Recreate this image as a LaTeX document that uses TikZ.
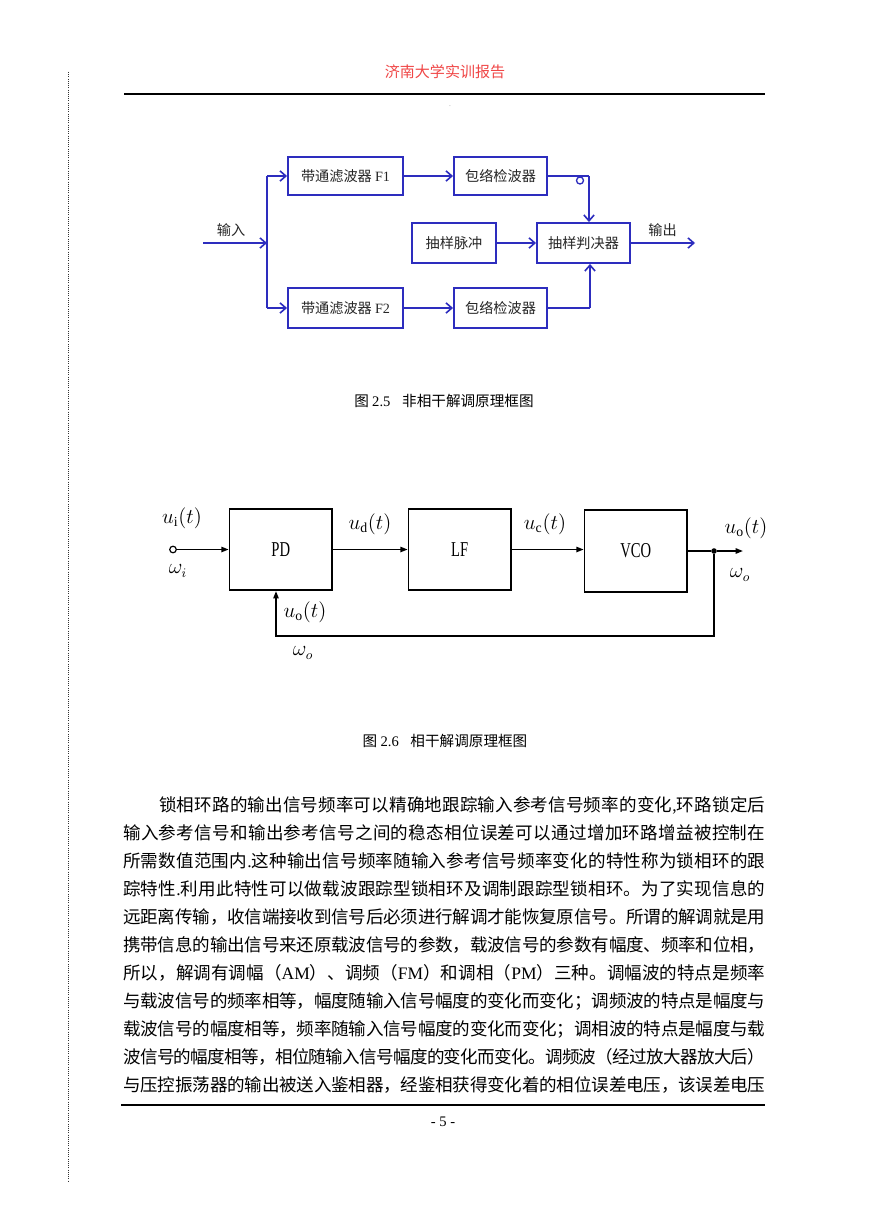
\documentclass[tikz,border=0pt]{standalone}
\usepackage{fontspec}
\usepackage{graphicx}
\setmainfont{Liberation Serif}
\newfontfamily\cjk{Noto Sans CJK SC}
\newfontfamily\lat{Liberation Serif}
\usetikzlibrary{arrows.meta}
\definecolor{blu}{RGB}{45,45,190}
\definecolor{hdred}{RGB}{240,70,70}
\ExplSyntaxOn
\NewDocumentCommand\spreadline{m m}
  {
    \hbox_to_wd:nn {#1}
      {
        \skip_horizontal:n {0pt plus -1fil minus -0.6pt}
        \tl_map_inline:nn {#2}
          { \skip_horizontal:n {0pt plus 1fil minus 0.6pt} {##1} }
      }
  }
\ExplSyntaxOff
\tikzset{
  bx/.style 2 args={draw=blu, line width=1.3pt, inner sep=0pt,
    minimum width=#1*0.6847pt, minimum height=#2*0.6847pt,
    font=\cjk\fontsize{9.7}{11}\selectfont, text=black!85},
  kbx/.style 2 args={draw=black, line width=1.1pt, inner sep=0pt,
    minimum width=#1*0.6847pt, minimum height=#2*0.6847pt,
    font=\lat\fontsize{10}{12}\selectfont},
  bline/.style={draw=blu, line width=1.3pt},
  barr/.style={bline, -{Straight Barb[length=4pt,width=7pt,line width=1.1pt]}},
  kline/.style={draw=black, line width=1.1pt},
  karr/.style={kline, -{Triangle[length=5pt,width=3.6pt]}},
  lbl/.style={inner sep=0pt, font=\fontsize{13.5}{16}\selectfont},
  cn/.style={inner sep=0pt, font=\cjk\fontsize{9.7}{11}\selectfont, text=black!85},
  bodyline/.style={anchor=west, inner sep=0pt, font=\cjk\fontsize{12}{14}\selectfont},
  figcap/.style={inner sep=0pt, font=\cjk\fontsize{10}{12}\selectfont},
}
\begin{document}
\begin{tikzpicture}[x=0.6847pt,y=-0.6847pt]
\useasboundingbox (0,0) rectangle (869,1228);
\fill[white] (0,0) rectangle (869,1228);

% ---------- page decorations ----------
\draw[line width=0.5pt, densely dotted, black!80] (68,72) -- (68,1182);
\node[inner sep=0pt, font=\cjk\fontsize{10.3}{12}\selectfont, text=hdred] (hdr) at (445,72) {济南大学实训报告};
\draw[line width=2pt] (124,94) -- (765,94);
\node[inner sep=0pt, font=\lat\fontsize{5}{6}\selectfont, text=black!40] (dot) at (450,106) {.};
\draw[line width=2pt] (121,1105) -- (765,1105);
\node[inner sep=0pt, font=\lat\fontsize{10}{12}\selectfont] (pg) at (443,1122) {- 5 -};

% ---------- diagram 2.5 ----------
\node[cn] (inl) at (231,230) {输入};
\coordinate (inS) at (203,243);
\coordinate (J) at (267,243);
\coordinate (Jt) at (267,176);
\coordinate (Jb) at (267,308);
\node[bx={115}{38}] (f1) at (345.5,176) {带通滤波器 {\lat F1}};
\node[bx={93}{38}] (e1) at (500.5,176) {包络检波器};
\node[bx={115}{40}] (f2) at (345.5,308) {带通滤波器 {\lat F2}};
\node[bx={93}{40}] (e2) at (500.5,308) {包络检波器};
\node[bx={84}{40}] (sp) at (454,243) {抽样脉冲};
\node[bx={93}{40}] (dec) at (583.5,243) {抽样判决器};
\node[cn] (outl) at (662.5,230) {输出};
\coordinate (outT) at (695,243);
\coordinate (c1) at (589,176);
\coordinate (c2) at (590,308);

\draw[barr] (inS) -- (J);
\draw[bline] (Jt) -- (Jb);
\draw[barr] (Jt) -- (f1.west);
\draw[barr] (Jb) -- (f2.west);
\draw[barr] (f1) -- (e1);
\draw[barr] (f2) -- (e2);
\draw[barr] (sp) -- (dec);
\draw[barr] (dec.east) -- (outT);
\draw[bline] (e1.east) -- (c1);
\draw[barr] (c1) -- (c1 |- dec.north);
\draw[blu, line width=0.9pt] (580,180.5) circle[radius=3.5];
\draw[bline] (e2.east) -- (c2);
\draw[barr] (c2) -- (c2 |- dec.south);

\node[figcap] (cap1) at (444,401) {图 {\lat 2.5}\hspace{0.8em}非相干解调原理框图};

% ---------- diagram 2.6 ----------
\node[kbx={102.5}{81.5}] (PD) at (280.75,549.5) {\scalebox{1}[1.45]{PD}};
\node[kbx={102.5}{81.5}] (LF) at (459.75,549.5) {\scalebox{1}[1.45]{LF}};
\node[kbx={102.5}{82}] (VCO) at (635.75,551) {\scalebox{1}[1.45]{VCO}};
\node[circle, draw, line width=0.8pt, inner sep=0pt, minimum size=4.5pt] (inc) at (173,549.5) {};
\node[circle, fill, inner sep=0pt, minimum size=3.8pt] (jn) at (714,551) {};
\coordinate (oT) at (743,551);
\coordinate (fb1) at (714,636);
\coordinate (fb2) at (276,636);

\draw[karr] (inc.east) -- (inc.east -| PD.west);
\draw[karr] (PD.east) -- (PD.east -| LF.west);
\draw[karr] (LF.east) -- (LF.east -| VCO.west);
\draw[kline] (VCO.east) -- (jn);
\draw[karr] (jn) -- (oT);
\draw[karr] (jn) -- (fb1) -- (fb2) -- (fb2 |- PD.south);

\node[lbl] (ui) at (182,518) {$u_{\mathrm{i}}(t)$};
\node[lbl] (wi) at (178,571) {$\omega_{i}$};
\node[lbl] (ud) at (370,524) {$u_{\mathrm{d}}(t)$};
\node[lbl] (uc) at (545,524) {$u_{\mathrm{c}}(t)$};
\node[lbl] (uo) at (746,528) {$u_{\mathrm{o}}(t)$};
\node[lbl] (wo) at (740,575) {$\omega_{o}$};
\node[lbl] (uo2) at (305,612) {$u_{\mathrm{o}}(t)$};
\node[lbl] (wo2) at (303,653) {$\omega_{o}$};

\node[figcap] (cap2) at (445,741) {图 {\lat 2.6}\hspace{0.8em}相干解调原理框图};

% ---------- body text ----------
\node[bodyline] (l1) at (159,805) {\spreadline{606\dimexpr 0.6847pt\relax}{锁相环路的输出信号频率可以精确地跟踪输入参考信号频率的变化{\lat ,}环路锁定后}};
\node[bodyline] (l2) at (123,833) {\spreadline{642\dimexpr 0.6847pt\relax}{输入参考信号和输出参考信号之间的稳态相位误差可以通过增加环路增益被控制在}};
\node[bodyline] (l3) at (123,861) {\spreadline{642\dimexpr 0.6847pt\relax}{所需数值范围内{\lat .}这种输出信号频率随输入参考信号频率变化的特性称为锁相环的跟}};
\node[bodyline] (l4) at (123,889) {\spreadline{642\dimexpr 0.6847pt\relax}{踪特性{\lat .}利用此特性可以做载波跟踪型锁相环及调制跟踪型锁相环。为了实现信息的}};
\node[bodyline] (l5) at (123,917) {\spreadline{642\dimexpr 0.6847pt\relax}{远距离传输，收信端接收到信号后必须进行解调才能恢复原信号。所谓的解调就是用}};
\node[bodyline] (l6) at (123,945) {\spreadline{642\dimexpr 0.6847pt\relax}{携带信息的输出信号来还原载波信号的参数，载波信号的参数有幅度、频率和位相，}};
\node[bodyline] (l7) at (123,973) {\spreadline{642\dimexpr 0.6847pt\relax}{所以，解调有调幅（{\lat AM}）、调频（{\lat FM}）和调相（{\lat PM}）三种。调幅波的特点是频率}};
\node[bodyline] (l8) at (123,1001) {\spreadline{642\dimexpr 0.6847pt\relax}{与载波信号的频率相等，幅度随输入信号幅度的变化而变化；调频波的特点是幅度与}};
\node[bodyline] (l9) at (123,1029) {\spreadline{642\dimexpr 0.6847pt\relax}{载波信号的幅度相等，频率随输入信号幅度的变化而变化；调相波的特点是幅度与载}};
\node[bodyline] (l10) at (123,1057) {\spreadline{642\dimexpr 0.6847pt\relax}{波信号的幅度相等，相位随输入信号幅度的变化而变化。调频波（经过放大器放大后）}};
\node[bodyline] (l11) at (123,1085) {\spreadline{642\dimexpr 0.6847pt\relax}{与压控振荡器的输出被送入鉴相器，经鉴相获得变化着的相位误差电压，该误差电压}};
\end{tikzpicture}
\end{document}
